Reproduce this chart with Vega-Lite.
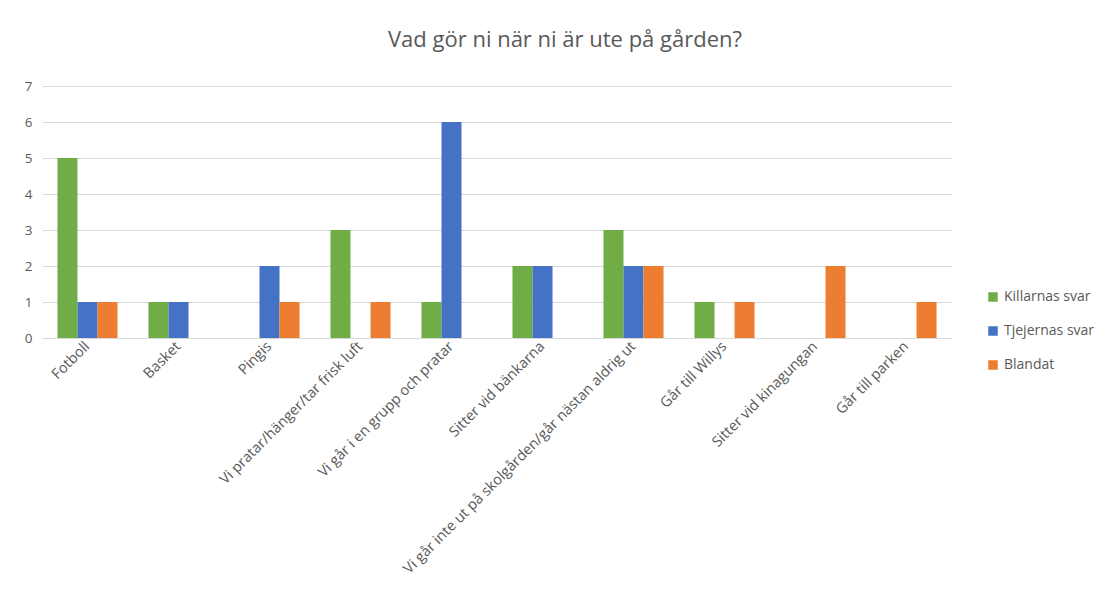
{
  "$schema": "https://vega.github.io/schema/vega-lite/v6.json",
  "autosize": {"type": "none"},
  "padding": {"left": 42, "top": 86, "right": 154, "bottom": 262},
  "width": 910,
  "height": 252,
  "background": "white",
  "title": {
    "text": "Vad gör ni när ni är ute på gården?",
    "anchor": "middle",
    "frame": "group",
    "dx": 68,
    "offset": 27,
    "font": "Open Sans",
    "fontSize": 22,
    "fontWeight": "normal",
    "color": "#595959"
  },
  "config": {
    "view": {"stroke": null},
    "font": "Open Sans"
  },
  "data": {
    "values": [
      {"kategori": "Fotboll", "serie": "Killarnas svar", "antal": 5},
      {"kategori": "Fotboll", "serie": "Tjejernas svar", "antal": 1},
      {"kategori": "Fotboll", "serie": "Blandat", "antal": 1},
      {"kategori": "Basket", "serie": "Killarnas svar", "antal": 1},
      {"kategori": "Basket", "serie": "Tjejernas svar", "antal": 1},
      {"kategori": "Basket", "serie": "Blandat", "antal": 0},
      {"kategori": "Pingis", "serie": "Killarnas svar", "antal": 0},
      {"kategori": "Pingis", "serie": "Tjejernas svar", "antal": 2},
      {"kategori": "Pingis", "serie": "Blandat", "antal": 1},
      {"kategori": "Vi pratar/hänger/tar frisk luft", "serie": "Killarnas svar", "antal": 3},
      {"kategori": "Vi pratar/hänger/tar frisk luft", "serie": "Tjejernas svar", "antal": 0},
      {"kategori": "Vi pratar/hänger/tar frisk luft", "serie": "Blandat", "antal": 1},
      {"kategori": "Vi går i en grupp och pratar", "serie": "Killarnas svar", "antal": 1},
      {"kategori": "Vi går i en grupp och pratar", "serie": "Tjejernas svar", "antal": 6},
      {"kategori": "Vi går i en grupp och pratar", "serie": "Blandat", "antal": 0},
      {"kategori": "Sitter vid bänkarna", "serie": "Killarnas svar", "antal": 2},
      {"kategori": "Sitter vid bänkarna", "serie": "Tjejernas svar", "antal": 2},
      {"kategori": "Sitter vid bänkarna", "serie": "Blandat", "antal": 0},
      {"kategori": "Vi går inte ut på skolgården/går nästan aldrig ut", "serie": "Killarnas svar", "antal": 3},
      {"kategori": "Vi går inte ut på skolgården/går nästan aldrig ut", "serie": "Tjejernas svar", "antal": 2},
      {"kategori": "Vi går inte ut på skolgården/går nästan aldrig ut", "serie": "Blandat", "antal": 2},
      {"kategori": "Går till Willys", "serie": "Killarnas svar", "antal": 1},
      {"kategori": "Går till Willys", "serie": "Tjejernas svar", "antal": 0},
      {"kategori": "Går till Willys", "serie": "Blandat", "antal": 1},
      {"kategori": "Sitter vid kinagungan", "serie": "Killarnas svar", "antal": 0},
      {"kategori": "Sitter vid kinagungan", "serie": "Tjejernas svar", "antal": 0},
      {"kategori": "Sitter vid kinagungan", "serie": "Blandat", "antal": 2},
      {"kategori": "Går till parken", "serie": "Killarnas svar", "antal": 0},
      {"kategori": "Går till parken", "serie": "Tjejernas svar", "antal": 0},
      {"kategori": "Går till parken", "serie": "Blandat", "antal": 1}
    ]
  },
  "mark": {"type": "bar"},
  "encoding": {
    "x": {
      "field": "kategori",
      "type": "nominal",
      "sort": null,
      "scale": {"paddingInner": 0.34, "paddingOuter": 0.17},
      "axis": {
        "title": null,
        "labelAngle": -45,
        "labelAlign": "right",
        "labelBaseline": "middle",
        "labelFontSize": 14.5,
        "labelColor": "#595959",
        "labelPadding": 6,
        "labelLimit": 500,
        "ticks": false,
        "domainColor": "#D9D9D9",
        "domainWidth": 1
      }
    },
    "xOffset": {
      "field": "serie",
      "type": "nominal",
      "sort": ["Killarnas svar", "Tjejernas svar", "Blandat"],
      "scale": {"paddingInner": 0, "paddingOuter": 0}
    },
    "y": {
      "field": "antal",
      "type": "quantitative",
      "scale": {"domain": [0, 7], "nice": false},
      "axis": {
        "title": null,
        "values": [0, 1, 2, 3, 4, 5, 6, 7],
        "domain": false,
        "ticks": false,
        "labelFontSize": 13.5,
        "labelColor": "#595959",
        "labelPadding": 10,
        "gridColor": "#D9D9D9",
        "gridWidth": 1
      }
    },
    "color": {
      "field": "serie",
      "type": "nominal",
      "sort": ["Killarnas svar", "Tjejernas svar", "Blandat"],
      "scale": {
        "domain": ["Killarnas svar", "Tjejernas svar", "Blandat"],
        "range": ["#70AD47", "#4472C4", "#ED7D31"]
      },
      "legend": {
        "title": null,
        "orient": "none",
        "legendX": 944,
        "legendY": 204,
        "symbolType": "square",
        "symbolSize": 90,
        "symbolStrokeWidth": 0,
        "labelFontSize": 14,
        "labelColor": "#595959",
        "rowPadding": 20,
        "labelOffset": 4
      }
    }
  }
}
